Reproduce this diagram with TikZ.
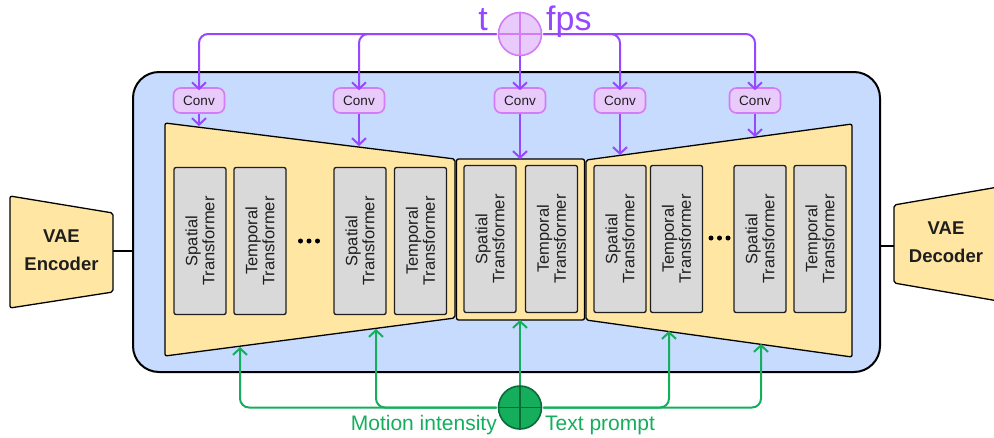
\documentclass[tikz,border=0pt]{standalone}
\usepackage{fontspec}
\setmainfont{Liberation Sans}
\usetikzlibrary{arrows.meta,calc}

\definecolor{unetblue}{HTML}{C6DBFD}
\definecolor{blockyellow}{HTML}{FFE7A3}
\definecolor{tfgray}{HTML}{D9D9D9}
\definecolor{inktext}{HTML}{1E1E1E}
\definecolor{condpurple}{HTML}{9747FF}
\definecolor{convfill}{HTML}{E8CBFA}
\definecolor{convedge}{HTML}{D47CF5}
\definecolor{condgreen}{HTML}{14AE5C}
\definecolor{greenedge}{HTML}{0B6B38}

\tikzset{
  trapbox/.style={fill=blockyellow, draw=black, line width=1.3pt, rounded corners=2pt, line join=round},
  tfbox/.style={draw=inktext, fill=tfgray, line width=1.3pt, rounded corners=2pt,
    rotate=90, minimum width=147pt, minimum height=52pt, inner sep=0pt,
    align=center, text=inktext, font=\fontsize{16.5}{17}\selectfont},
  convbox/.style={draw=convedge, fill=convfill, line width=1.6pt, rounded corners=7pt,
    minimum width=51pt, minimum height=25pt, inner sep=0pt, text=inktext,
    font=\fontsize{13.5}{15}\selectfont},
  pline/.style={draw=condpurple, line width=2pt, rounded corners=9pt,
    -{Straight Barb[length=6.5pt,width=14pt]}},
  gline/.style={draw=condgreen, line width=2pt, rounded corners=9pt,
    -{Straight Barb[length=6.5pt,width=14pt]}},
  vaetext/.style={align=center, text=inktext, font=\bfseries\fontsize{18.5}{28}\selectfont},
  dotmark/.style={circle, fill=black, inner sep=0pt, minimum size=5pt},
}

\begin{document}
\begin{tikzpicture}[x=1pt, y=-1pt]
\useasboundingbox (0,0) rectangle (994,437);
\clip (0,0) rectangle (994,437);

% U-Net frame
\node[draw=black, fill=unetblue, line width=2pt, rounded corners=26pt,
      minimum width=747pt, minimum height=300pt, inner sep=0pt] (unet) at (506.5,222) {};

% VAE encoder / decoder
\draw[trapbox] (10,196) -- (113,213) -- (113,292) -- (10,308) -- cycle;
\node[vaetext] (enc) at (61.5,250) {VAE\\Encoder};
\coordinate (encout) at (113,251);
\draw[trapbox] (894,205) -- (1004,186) -- (1004,302) -- (894,283) -- cycle;
\node[vaetext] (dec) at (946,242) {VAE\\Decoder};
\coordinate (decin) at (894,246);
\draw[line width=1.6pt] (encout) -- (unet.west |- encout);
\draw[line width=1.6pt] (unet.east |- decin) -- (decin);

% encoder, middle and decoder blocks of the U-Net
\draw[trapbox] (165,123) -- (455,159) -- (455,318) -- (165,356) -- cycle;
\draw[trapbox] (456.5,159) rectangle (584.5,320);
\draw[trapbox] (586,160) -- (852,124) -- (852,357) -- (586,320) -- cycle;

% transformer blocks
\node[tfbox] (s1) at (200,241) {Spatial\\Transformer};
\node[tfbox] (t1) at (260,241) {Temporal\\Transformer};
\node[tfbox] (s2) at (360,241) {Spatial\\Transformer};
\node[tfbox] (t2) at (420.5,241) {Temporal\\Transformer};
\node[tfbox] (s3) at (490,239) {Spatial\\Transformer};
\node[tfbox] (t3) at (551.5,239) {Temporal\\Transformer};
\node[tfbox] (s4) at (620,239) {Spatial\\Transformer};
\node[tfbox] (t4) at (676.5,239) {Temporal\\Transformer};
\node[tfbox] (s5) at (760,239) {Spatial\\Transformer};
\node[tfbox] (t5) at (820,239) {Temporal\\Transformer};

\node[dotmark] (ld1) at (300.5,241) {};
\node[dotmark] (ld2) at (309,241) {};
\node[dotmark] (ld3) at (317.5,241) {};
\node[dotmark] (rd1) at (711,238) {};
\node[dotmark] (rd2) at (719.5,238) {};
\node[dotmark] (rd3) at (728,238) {};

% timestep / fps embedding
\node[circle, draw=convedge, fill=convfill, line width=1.6pt, minimum size=43pt, inner sep=0pt] (tf) at (520,34) {};
\draw[convedge, line width=1.6pt] (tf.north) -- (tf.south) (tf.west) -- (tf.east);
\node[anchor=base east, inner sep=0pt, text=condpurple, font=\fontsize{34}{36}\selectfont] (tlabel) at (488,30) {t};
\node[anchor=base west, inner sep=0pt, text=condpurple, font=\fontsize{34}{36}\selectfont] (fpslabel) at (546,30) {fps};

\node[convbox] (c1) at (199,100.5) {Conv};
\node[convbox] (c2) at (359,100.5) {Conv};
\node[convbox] (c3) at (520,100.5) {Conv};
\node[convbox] (c4) at (620,100.5) {Conv};
\node[convbox] (c5) at (755,100.5) {Conv};

\draw[pline] ([xshift=-1pt]tf.west) -| ([yshift=-3pt]c1.north);
\draw[pline] ([xshift=-1pt]tf.west) -| ([yshift=-3pt]c2.north);
\draw[pline] (tf.south) -- ([yshift=-3pt]c3.north);
\draw[pline] ([xshift=1pt]tf.east) -| ([yshift=-3pt]c4.north);
\draw[pline] ([xshift=1pt]tf.east) -| ([yshift=-3pt]c5.north);

% injection points on the top edges of the blocks
\coordinate (in1) at (199,126);
\coordinate (in2) at (359,146);
\coordinate (in3) at (520,159);
\coordinate (in4) at (620,155);
\coordinate (in5) at (755,137);
\draw[pline] (c1.south) -- (in1);
\draw[pline] (c2.south) -- (in2);
\draw[pline] (c3.south) -- (in3);
\draw[pline] (c4.south) -- (in4);
\draw[pline] (c5.south) -- (in5);

% motion intensity / text prompt conditioning
\node[circle, draw=greenedge, fill=condgreen, line width=1.6pt, minimum size=43pt, inner sep=0pt] (mt) at (520,407.5) {};
\draw[greenedge, line width=1.6pt] (mt.north) -- (mt.south) (mt.west) -- (mt.east);
\node[anchor=base east, inner sep=0pt, text=condgreen, font=\fontsize{21}{24}\selectfont] (mlabel) at (497,430) {Motion intensity};
\node[anchor=base west, inner sep=0pt, text=condgreen, font=\fontsize{21}{24}\selectfont] (plabel) at (545,430) {Text prompt};

\coordinate (g1) at (240,347);
\coordinate (g2) at (376,329);
\coordinate (g3) at (520,320);
\coordinate (g4) at (669,331);
\coordinate (g5) at (761,344);
\draw[gline] ([xshift=-1pt]mt.west) -| (g1);
\draw[gline] ([xshift=-1pt]mt.west) -| (g2);
\draw[gline] (mt.north) -- (g3);
\draw[gline] ([xshift=1pt]mt.east) -| (g4);
\draw[gline] ([xshift=1pt]mt.east) -| (g5);
\end{tikzpicture}
\end{document}
